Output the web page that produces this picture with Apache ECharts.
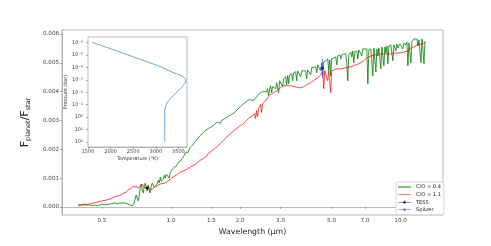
<!DOCTYPE html>
<html>
<head>
<meta charset="utf-8">
<script src="https://cdn.jsdelivr.net/npm/echarts@6/dist/echarts.min.js"></script>
<style>html,body{margin:0;padding:0;background:#fff}#c{width:491px;height:246px}</style>
</head>
<body>
<div id="c"></div>
<script>
// ---- C/O = 0.4 spectrum (green) ----
const wlGreen = [0.394,0.402,0.410,0.422,0.435,0.444,0.453,0.467,0.481,0.491,0.501,0.517,0.527,0.543,0.554,0.571,0.583,0.601,0.613,0.632,0.644,0.664,0.678,0.685,0.691,0.698,0.705,0.713,0.720,0.727,0.734,0.742,0.749,0.757,0.765,0.772,0.780,0.788,0.796,0.804,0.812,0.820,0.829,0.837,0.845,0.854,0.862,0.871,0.880,0.889,0.898,0.907,0.916,0.926,0.935,0.944,0.954,0.963,0.973,0.983,0.993,1.003,1.013,1.023,1.034,1.044,1.055,1.065,1.076,1.087,1.098,1.109,1.120,1.132,1.143,1.155,1.166,1.178,1.190,1.202,1.214,1.226,1.239,1.251,1.264,1.277,1.290,1.303,1.316,1.329,1.343,1.370,1.398,1.426,1.455,1.485,1.515,1.530,1.561,1.577,1.609,1.642,1.658,1.692,1.709,1.744,1.762,1.797,1.834,1.852,1.890,1.909,1.948,1.968,2.007,2.048,2.069,2.111,2.154,2.198,2.242,2.288,2.334,2.382,2.430,2.455,2.505,2.555,2.607,2.634,2.660,2.687,2.715,2.742,2.770,2.826,2.855,2.884,2.942,2.972,3.032,3.063,3.094,3.157,3.189,3.221,3.253,3.286,3.353,3.387,3.421,3.491,3.526,3.562,3.634,3.671,3.708,3.783,3.860,3.899,3.939,4.018,4.059,4.100,4.183,4.268,4.311,4.355,4.443,4.488,4.533,4.579,4.625,4.719,4.815,4.863,4.912,4.962,5.012,5.114,5.218,5.271,5.324,5.432,5.487,5.542,5.655,5.770,5.828,5.887,5.947,6.068,6.129,6.191,6.253,6.316,6.445,6.510,6.576,6.709,6.777,6.846,6.984,7.126,7.200,7.272,7.420,7.571,7.647,7.803,7.882,7.962,8.042,8.206,8.288,8.457,8.542,8.628,8.716,8.803,8.892,9.073,9.258,9.351,9.541,9.638,9.734,9.933,10.03,10.23,10.34,10.55,10.65,10.76,10.87,10.98,11.09,11.20,11.32,11.43,11.66,11.78,11.90,12.02,12.14,12.27,12.39,12.51,12.64,12.77];
const fluxGreen = [0.000103,0.000069,0.000103,0.000103,0.000069,0.000069,0.000034,0.000069,0.000034,0.000069,0.000103,0.000069,0.000034,0.000103,0.000103,0.000138,0.000103,0.000138,0.000103,0.000138,0.000103,0.000069,0.000034,0.000034,0.000138,0.000276,0.000414,0.000483,0.000207,0.000379,0.000690,0.000793,0.000586,0.000483,0.000724,0.000828,0.000655,0.000552,0.000759,0.000586,0.000483,0.000724,0.000828,0.000862,0.000690,0.000759,0.000621,0.000793,0.000931,0.000828,0.001034,0.000897,0.000828,0.000966,0.001103,0.001000,0.001138,0.001172,0.001069,0.001000,0.001207,0.001241,0.001310,0.001276,0.001379,0.001448,0.001414,0.001448,0.001552,0.001483,0.001586,0.001621,0.001690,0.001655,0.001793,0.001897,0.001828,0.001966,0.001897,0.002034,0.002069,0.002000,0.002138,0.002103,0.002241,0.002207,0.002310,0.002379,0.002345,0.002448,0.002483,0.002552,0.002621,0.002690,0.002724,0.002759,0.002724,0.002828,0.002862,0.002931,0.002931,0.002897,0.003000,0.003034,0.003069,0.003103,0.003138,0.003172,0.003207,0.003241,0.003276,0.003345,0.003379,0.003448,0.003483,0.003552,0.003586,0.003621,0.003690,0.003724,0.003724,0.003690,0.003759,0.003862,0.003897,0.003966,0.004000,0.004034,0.004000,0.004103,0.003862,0.004069,0.004207,0.003966,0.004172,0.004241,0.004103,0.004310,0.003966,0.004379,0.004414,0.004172,0.004448,0.004517,0.004241,0.004552,0.004276,0.004586,0.004621,0.004379,0.004655,0.004690,0.004379,0.004724,0.004690,0.004517,0.004724,0.004690,0.004724,0.004448,0.004759,0.004793,0.004586,0.004828,0.004897,0.004862,0.004655,0.004931,0.004966,0.004724,0.005000,0.004552,0.005034,0.005069,0.005138,0.004724,0.005103,0.004552,0.005138,0.005172,0.005207,0.004931,0.005241,0.005276,0.005138,0.005276,0.005310,0.005310,0.005000,0.004379,0.005276,0.005379,0.005207,0.005414,0.005000,0.005379,0.005414,0.005138,0.005448,0.005483,0.005241,0.005483,0.005414,0.005483,0.004276,0.005448,0.005483,0.004552,0.005517,0.004690,0.005483,0.005241,0.005517,0.004793,0.005552,0.004897,0.005552,0.005345,0.005586,0.004966,0.005586,0.005621,0.005069,0.005621,0.005414,0.005655,0.005517,0.005655,0.005690,0.005483,0.005690,0.005621,0.005724,0.004897,0.005690,0.005759,0.005000,0.005724,0.005759,0.005828,0.005759,0.005828,0.005586,0.005793,0.005724,0.005000,0.005828,0.005483,0.004966,0.005759];

// ---- C/O = 1.1 spectrum (red) ----
const wlRed = [0.394,0.410,0.426,0.444,0.462,0.481,0.501,0.522,0.543,0.565,0.589,0.613,0.638,0.651,0.664,0.678,0.691,0.705,0.720,0.734,0.749,0.765,0.780,0.796,0.812,0.829,0.845,0.862,0.880,0.898,0.916,0.935,0.954,0.973,0.993,1.013,1.034,1.055,1.076,1.098,1.120,1.155,1.214,1.277,1.343,1.412,1.455,1.515,1.577,1.642,1.726,1.816,1.909,2.007,2.048,2.111,2.176,2.220,2.265,2.311,2.334,2.358,2.382,2.406,2.455,2.480,2.505,2.581,2.660,2.715,2.798,2.884,3.002,3.094,3.189,3.320,3.456,3.598,3.671,3.783,3.899,4.059,4.225,4.355,4.488,4.533,4.579,4.625,4.672,4.719,4.815,4.863,4.962,5.012,5.063,5.271,5.487,5.770,6.068,6.380,6.576,6.709,6.915,7.126,7.420,7.647,7.962,8.206,8.628,9.073,9.541,10.03,10.44,10.76,11.09,11.43,11.78,12.27,12.77];
const fluxRed = [0.000034,0.000069,0.000069,0.000103,0.000138,0.000172,0.000207,0.000241,0.000276,0.000345,0.000379,0.000448,0.000517,0.000586,0.000655,0.000690,0.000621,0.000724,0.000655,0.000724,0.000793,0.000655,0.000621,0.000690,0.000586,0.000621,0.000655,0.000724,0.000759,0.000793,0.000793,0.000828,0.000862,0.000931,0.000966,0.001034,0.001069,0.001103,0.001172,0.001207,0.001241,0.001276,0.001379,0.001483,0.001621,0.001724,0.001862,0.001966,0.002069,0.002207,0.002379,0.002552,0.002690,0.002828,0.002862,0.002966,0.003069,0.003103,0.003172,0.003241,0.003069,0.003345,0.003138,0.003414,0.003552,0.003276,0.003586,0.003690,0.003828,0.003897,0.003966,0.004034,0.004138,0.004207,0.004207,0.004207,0.004172,0.004138,0.004138,0.004172,0.004241,0.004310,0.004414,0.004483,0.004586,0.004655,0.004724,0.004103,0.004724,0.004724,0.004379,0.004724,0.003966,0.004724,0.004759,0.004793,0.004793,0.004828,0.004862,0.004931,0.004966,0.005000,0.005069,0.005172,0.005241,0.005276,0.005276,0.005310,0.005310,0.005310,0.005345,0.005345,0.005379,0.005414,0.005517,0.005552,0.005621,0.005655,0.005690];

// ---- photometric points ----
const tessWl = [0.788], tessFlux = [0.00066], tessErr = [0.00004];
const spitzerWl = [4.56], spitzerFlux = [0.00481], spitzerErr = [0.00033];

// ---- inset T-P profile ----
const pressure = [1e-6,3.16e-6,1e-5,3.16e-5,1e-4,2.51e-4,4.47e-4,7.94e-4,1.26e-3,2.51e-3,3.55e-3,5.62e-3,8.91e-3,1.78e-2,3.16e-2,5.62e-2,8.91e-2,0.178,0.282,1,10,100];
const temperature = [1598,1990,2380,2760,3136,3364,3553,3652,3666,3620,3591,3530,3477,3400,3325,3270,3234,3210,3197,3197,3197,3197];

// ---- tick labels ----
const xTicks = [0.5,1.0,1.5,2.0,3.0,5.0,7.0,10.0];
const yTicks = [0,0.001,0.002,0.003,0.004,0.005,0.006];
const pTicks = [1e-6,1e-5,1e-4,1e-3,1e-2,1e-1,1,10,100];

const FF = 'DejaVu Sans';
const sup = {'-':'\u207B','0':'\u2070','1':'\u00B9','2':'\u00B2','3':'\u00B3','4':'\u2074','5':'\u2075','6':'\u2076','7':'\u2077','8':'\u2078','9':'\u2079'};
function supStr(n){ return String(n).split('').map(c=>sup[c]).join(''); }

const zip = (a,b)=>a.map((v,i)=>[v,b[i]]);
const lineIcon = 'path://M0,0L0.01,0L0,0.01Z M0,4L26,4L26,6L0,6Z M26,9.99L25.99,10L26,10Z';
const markIcon = 'path://M0,0L0.01,0L0,0.01Z M0,4.5L26,4.5L26,5.5L0,5.5Z M13,1.5L16.5,5L13,8.5L9.5,5Z M26,9.99L25.99,10L26,10Z';
const dotIcon = 'path://M0,0L0.01,0L0,0.01Z M0,4.5L26,4.5L26,5.5L0,5.5Z M13,2.5A2.5,2.5 0 1,1 12.99,2.5Z M26,9.99L25.99,10L26,10Z';

function errRender(color){
  return function(params, api){
    const x = api.value(0), y = api.value(1), e = api.value(2);
    const p1 = api.coord([x, y - e]), p2 = api.coord([x, y + e]);
    return {type:'line', shape:{x1:p1[0],y1:p1[1],x2:p2[0],y2:p2[1]}, style:{stroke:color, lineWidth:0.8}};
  };
}

const chart = echarts.init(document.getElementById('c'), null, {renderer:'canvas'});
chart.setOption({
  animation:false,
  backgroundColor:'#fff',
  textStyle:{fontFamily:FF},
  grid:[
    {left:62, top:30, width:381, height:185, show:true, borderColor:'#aaa', borderWidth:0.8, backgroundColor:'transparent'},
    {left:88, top:37, width:99, height:110, show:true, borderColor:'#aaa', borderWidth:0.8, backgroundColor:'#fff', z:5}
  ],
  legend:{
    orient:'vertical', left:396, top:182, itemWidth:13, itemHeight:5, itemGap:1.6,
    padding:[2,3,2,2], borderColor:'#ccc', borderWidth:0.8, borderRadius:2, backgroundColor:'#fff',
    textStyle:{fontSize:5.1, color:'#222', fontFamily:FF, lineHeight:6},
    itemStyle:{borderWidth:0},
    data:[
      {name:'C/O = 0.4', icon:lineIcon, itemStyle:{color:'#008000'}},
      {name:'C/O = 1.1', icon:lineIcon, itemStyle:{color:'#ff8080'}},
      {name:'TESS', icon:markIcon, itemStyle:{color:'#000'}},
      {name:'Spitzer', icon:dotIcon, itemStyle:{color:'#3030ff'}}
    ]
  },
  xAxis:[
    {type:'log', gridIndex:0, logBase:10, min:0.335, max:15.3,
     axisLine:{show:true, lineStyle:{color:'#aaa', width:0.8}},
     axisTick:{show:true, length:2, customValues:xTicks, lineStyle:{color:'#666', width:0.6}},
     axisLabel:{customValues:xTicks, formatter:v=>Number(v).toFixed(1), fontSize:5.6, color:'#444', margin:2.5, fontFamily:FF},
     splitLine:{show:false}, minorTick:{show:false},
     name:'Wavelength (\u03BCm)', nameLocation:'middle', nameGap:10, nameTextStyle:{fontSize:7.8, color:'#222', fontFamily:FF}},
    {type:'value', gridIndex:1, min:1500, max:3690, interval:500,
     axisLine:{show:true, lineStyle:{color:'#aaa', width:0.8}},
     axisTick:{show:true, length:2, lineStyle:{color:'#666', width:0.6}},
     axisLabel:{fontSize:5, color:'#444', margin:2.5, fontFamily:FF, showMaxLabel:false, formatter:v=>String(Math.round(v))},
     splitLine:{show:false},
     name:'Temperature (\u00B0K)', nameLocation:'middle', nameGap:9, nameTextStyle:{fontSize:4.8, color:'#333', fontFamily:FF}}
  ],
  yAxis:[
    {type:'value', gridIndex:0, min:-0.00028, max:0.00614,
     axisLine:{show:true, lineStyle:{color:'#aaa', width:0.8}},
     axisTick:{show:true, length:2, customValues:yTicks, lineStyle:{color:'#666', width:0.6}},
     axisLabel:{customValues:yTicks, formatter:v=>Number(v).toFixed(3), fontSize:5.6, color:'#444', margin:3, fontFamily:FF},
     splitLine:{show:false},
     name:'{b|F}{s|planet}{b|/F}{s|star}', nameLocation:'middle', nameGap:16,
     nameTextStyle:{rich:{b:{fontSize:11, color:'#222', fontFamily:FF, lineHeight:13}, s:{fontSize:6.5, color:'#222', fontFamily:FF, verticalAlign:'bottom', lineHeight:9}}}},
    {type:'log', gridIndex:1, logBase:10, min:3.7e-7, max:250, inverse:true,
     axisLine:{show:true, lineStyle:{color:'#aaa', width:0.8}},
     axisTick:{show:true, length:2, customValues:pTicks, lineStyle:{color:'#666', width:0.6}},
     axisLabel:{customValues:pTicks, formatter:v=>'10'+supStr(Math.round(Math.log10(v))), fontSize:5, color:'#444', margin:5, fontFamily:FF},
     splitLine:{show:false}, minorTick:{show:false},
     name:'Pressure (bar)', nameLocation:'middle', nameGap:17, nameTextStyle:{fontSize:4.9, color:'#333', fontFamily:FF}}
  ],
  series:[
    {name:'C/O = 0.4', type:'line', xAxisIndex:0, yAxisIndex:0, data:zip(wlGreen, fluxGreen), showSymbol:false, symbol:'none',
     lineStyle:{color:'#008000', width:0.8}, itemStyle:{color:'#008000'}, z:2},
    {name:'C/O = 1.1', type:'line', xAxisIndex:0, yAxisIndex:0, data:zip(wlRed, fluxRed), showSymbol:false, symbol:'none',
     lineStyle:{color:'#ff0000', width:0.8, opacity:0.9}, itemStyle:{color:'#ff0000'}, z:3},
    {name:'TESS err', type:'custom', xAxisIndex:0, yAxisIndex:0, renderItem:errRender('#000'),
     data:tessWl.map((w,i)=>[w, tessFlux[i], tessErr[i]]), encode:{x:0, y:1}, z:4},
    {name:'Spitzer err', type:'custom', xAxisIndex:0, yAxisIndex:0, renderItem:errRender('#5050ff'),
     data:spitzerWl.map((w,i)=>[w, spitzerFlux[i], spitzerErr[i]]), encode:{x:0, y:1}, z:4},
    {name:'TESS', type:'scatter', xAxisIndex:0, yAxisIndex:0, data:zip(tessWl, tessFlux), symbol:'diamond', symbolSize:4, itemStyle:{color:'#000'}, z:5},
    {name:'Spitzer', type:'scatter', xAxisIndex:0, yAxisIndex:0, data:zip(spitzerWl, spitzerFlux), symbol:'circle', symbolSize:3.5, itemStyle:{color:'#0000ee'}, z:5},
    {name:'TP', type:'line', xAxisIndex:1, yAxisIndex:1, data:zip(temperature, pressure), showSymbol:false, symbol:'none', smooth:0.3,
     lineStyle:{color:'#5a9bd5', width:0.9}, z:6}
  ]
});
</script>
</body>
</html>
